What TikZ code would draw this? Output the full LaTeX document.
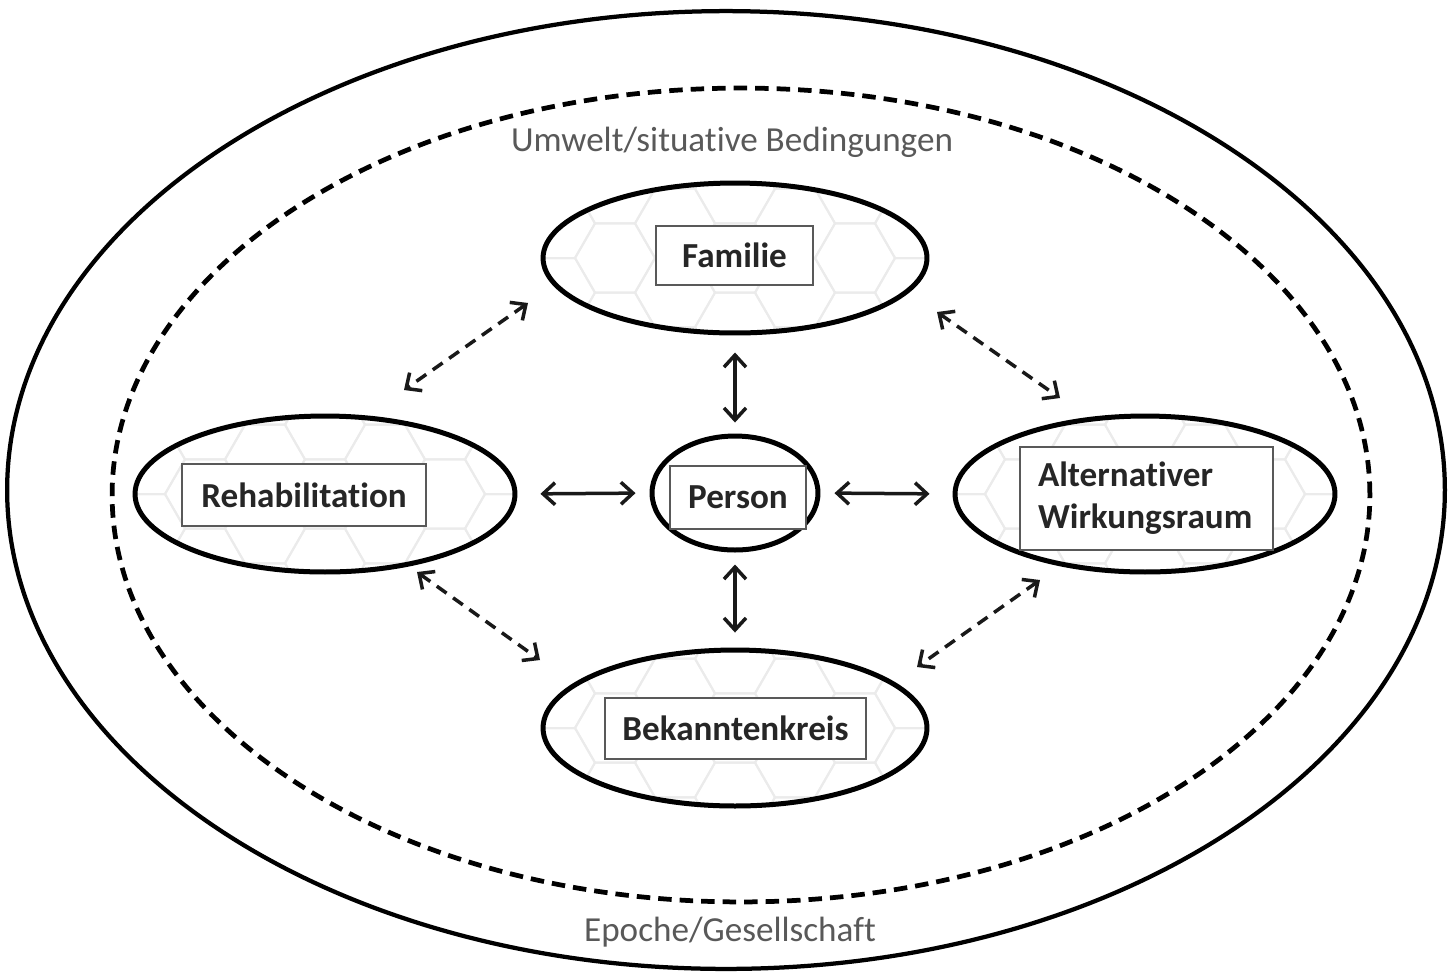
\documentclass[tikz,border=0pt]{standalone}
\usepackage{fontspec}
\setmainfont{Carlito}[RawFeature={-liga}]
\usetikzlibrary{shapes.geometric,arrows.meta}
\tikzset{
  hexline/.style={draw=black!8, line width=0.04cm},
  hexpat/.style={path picture={
    \begin{scope}[shift={(path picture bounding box.center)}]
    \foreach \i in {-4,...,4}{\foreach \j in {-2,...,2}{
      \pgfmathsetmacro\cx{\i*60}
      \pgfmathsetmacro\cy{\j*69.28+mod(abs(\i),2)*34.64}
      \draw[hexline] (\cx+40,\cy) -- ++(-20,34.64) -- ++(-40,0) -- ++(-20,-34.64) -- ++(20,-34.64) -- ++(40,0) -- cycle;
    }}
    \end{scope}}},
  bigell/.style={ellipse, draw=black, line width=0.085cm, inner sep=0pt},
  ringdash/.style={ellipse, draw=black, line width=0.095cm, inner sep=0pt, dash pattern=on 0.27cm off 0.16cm},
  ovalnode/.style={ellipse, draw=black, line width=0.1cm, inner sep=0pt, fill=white, hexpat},
  lblbox/.style={draw=black!65, line width=0.045cm, fill=white, inner sep=0pt,
    font=\fontsize{20}{24}\selectfont\bfseries, text=black!85},
  outerlbl/.style={font=\fontsize{20}{24}\selectfont, text=black!65},
  biarrow/.style={{Straight Barb[length=0.24cm,width=0.44cm]}-{Straight Barb[length=0.24cm,width=0.44cm]}, line width=0.07cm, black!90},
  dbiarrow/.style={biarrow, dash pattern=on 0.24cm off 0.16cm}
}
\begin{document}
\begin{tikzpicture}[x=0.02cm, y=-0.02cm]
\useasboundingbox (0,0) rectangle (1449,975);
\fill[white] (0,0) rectangle (1449,975);

% outer rings
\node[bigell, minimum width=28.76cm, minimum height=19.16cm] (society) at (726,490) {};
\node[ringdash, minimum width=25.16cm, minimum height=16.28cm] (env) at (741,495) {};

\node[outerlbl] (envlbl) at (732,142) {Umwelt/situative Bedingungen};
\node[outerlbl] (soclbl) at (730,932) {Epoche/Gesellschaft};

% ellipses
\node[ovalnode, minimum width=7.68cm, minimum height=3.0cm] (fam) at (735,258) {};
\node[ellipse, draw=black, line width=0.1cm, inner sep=0pt, fill=white, minimum width=3.32cm, minimum height=2.28cm] (per) at (735,493) {};
\node[ovalnode, minimum width=7.6cm, minimum height=3.12cm] (reh) at (325,494) {};
\node[ovalnode, minimum width=7.6cm, minimum height=3.12cm] (alt) at (1145,494) {};
\node[ovalnode, minimum width=7.68cm, minimum height=3.12cm] (bek) at (735,728) {};

% label boxes
\node[lblbox, minimum width=3.14cm, minimum height=1.18cm] (famb) at (734.5,255.5) {Familie};
\node[lblbox, minimum width=2.72cm, minimum height=1.26cm] (perb) at (738,497.5) {Person};
\node[lblbox, minimum width=4.88cm, minimum height=1.24cm] (rehb) at (304,495) {Rehabilitation};
\node[lblbox, minimum width=5.06cm, minimum height=2.06cm, text width=4.34cm, align=left] (altb) at (1146.5,498.5) {Alternativer\\Wirkungsraum};
\node[lblbox, minimum width=5.22cm, minimum height=1.22cm] (bekb) at (735.5,728.5) {Bekanntenkreis};

% solid arrows
\draw[biarrow, shorten <=0.34cm, shorten >=0.22cm] (fam.south) -- (per.north);
\draw[biarrow, shorten <=0.24cm, shorten >=0.30cm] (per.south) -- (bek.north);
\draw[biarrow, shorten <=0.46cm, shorten >=0.28cm] (reh.east) -- (per.west);
\draw[biarrow, shorten <=0.28cm, shorten >=0.46cm] (per.east) -- (alt.west);

% dashed arrows
\coordinate (fr1) at (528,303);
\coordinate (fr2) at (404,390);
\coordinate (fa1) at (937,312);
\coordinate (fa2) at (1060,398);
\coordinate (rb1) at (417,572);
\coordinate (rb2) at (540,660);
\coordinate (ab1) at (1040,580);
\coordinate (ab2) at (917,667);
\draw[dbiarrow] (fr1) -- (fr2);
\draw[dbiarrow] (fa1) -- (fa2);
\draw[dbiarrow] (rb1) -- (rb2);
\draw[dbiarrow] (ab1) -- (ab2);
\end{tikzpicture}
\end{document}
